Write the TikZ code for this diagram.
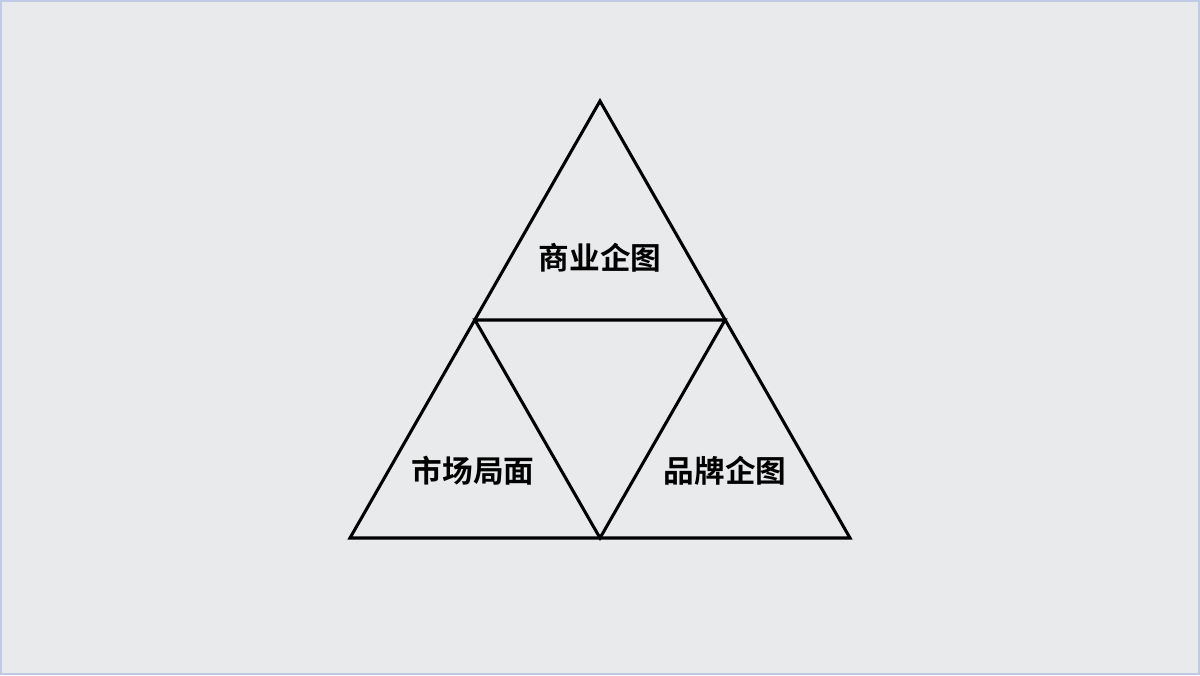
\documentclass[tikz,border=0pt]{standalone}
\usepackage{fontspec}
\newfontfamily\cjk{Noto Sans CJK SC}[BoldFont={* Bold}]
\definecolor{bg}{HTML}{E9EAEC}
\definecolor{edge}{HTML}{BFCBE4}
\begin{document}
\begin{tikzpicture}[x=0.75pt,y=-0.75pt,
  tri/.style={draw=black,line width=2.3pt,line join=miter},
  lbl/.style={font=\cjk\bfseries\fontsize{23}{27}\selectfont,text=black}]
\useasboundingbox (0,0) rectangle (1200,675);
\fill[bg] (0,0) rectangle (1200,675);
\draw[edge,line width=1.2pt] (0.8,0.8) rectangle (1199.2,674.2);
\coordinate (A) at (600,101);
\coordinate (B) at (350,538);
\coordinate (C) at (850,538);
\coordinate (L) at (475,320);
\coordinate (R) at (725,320);
\coordinate (M) at (600,538);
\draw[tri] (A) -- (B) -- (C) -- cycle;
\draw[tri] (L) -- (R) -- (M) -- cycle;
\node[lbl] (t1) at (600,258) {商业企图};
\node[lbl] (t2) at (473,471) {市场局面};
\node[lbl] (t3) at (725,471) {品牌企图};
\end{tikzpicture}
\end{document}
